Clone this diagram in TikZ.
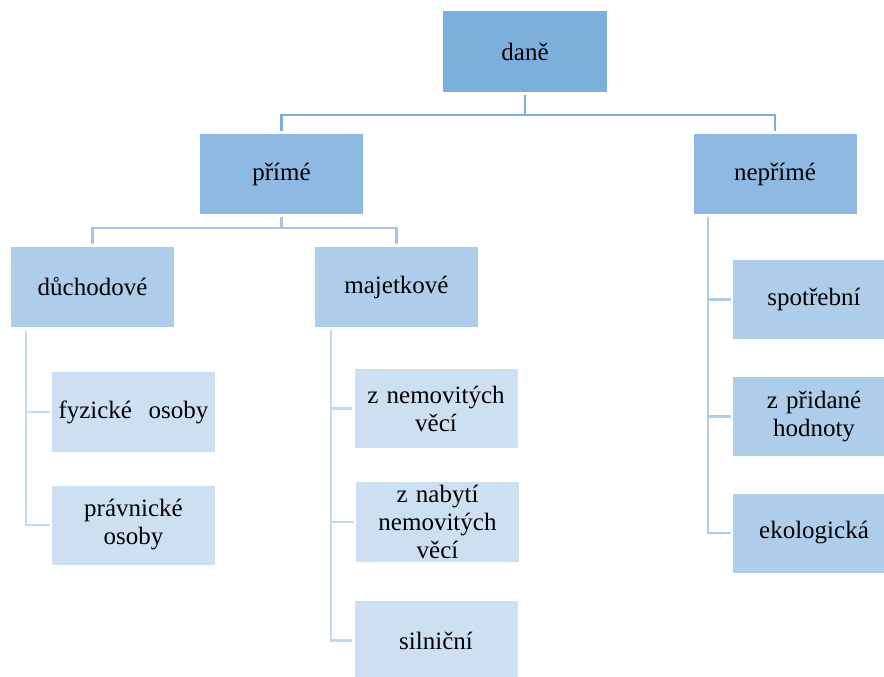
\documentclass[tikz,border=0pt]{standalone}
\usepackage{fontspec}
\setmainfont{Liberation Serif}
\definecolor{cA}{HTML}{7DAFDD}
\definecolor{cB}{HTML}{8DB9E2}
\definecolor{cC}{HTML}{AECDEA}
\definecolor{cD}{HTML}{CCE0F2}
\definecolor{lA}{HTML}{7DAFDD}
\definecolor{lB}{HTML}{A6C6E8}
\definecolor{lC}{HTML}{C5DAF0}
\definecolor{lD}{HTML}{AECDEA}
\tikzset{
  box/.style={rectangle, inner sep=0pt, minimum width=163pt, minimum height=80pt,
    text width=150pt, align=center, font=\fontsize{25}{28}\selectfont},
  con/.style={line width=2.6pt},
}
\begin{document}
\begin{tikzpicture}[x=1pt,y=-1pt]
\useasboundingbox (0,0) rectangle (884,677);
\clip (0,0) rectangle (884,677);
% boxes
\node[box, fill=cA, minimum width=164pt, minimum height=81pt] (dane) at (525,51.5) {daně};
\node[box, fill=cB] (prime) at (281.5,174) {přímé};
\node[box, fill=cB] (neprime) at (775,174) {nepřímé};
\node[box, fill=cC] (duch) at (92.5,287) {důchodové};
\node[box, fill=cC] (majet) at (396.5,287) {majetkové};
\node[box, fill=cD] (fyz) at (133.5,412) {fyzické\ \ osoby};
\node[box, fill=cD, minimum height=79pt] (prav) at (133.5,525) {právnické\\osoby};
\node[box, fill=cD, minimum height=79pt] (znem) at (436,408.5) {z nemovitých\\věcí};
\node[box, fill=cD] (znab) at (437.5,522) {z nabytí\\nemovitých\\věcí};
\node[box, fill=cD, minimum height=79pt] (siln) at (436,640.5) {silniční};
\node[box, fill=cC, minimum width=162pt, minimum height=79pt] (spot) at (814,299.5) {spotřební};
\node[box, fill=cC, minimum width=162pt, minimum height=79pt] (zprid) at (814,416.5) {z přidané\\hodnoty};
\node[box, fill=cC, minimum width=162pt, minimum height=79pt] (eko) at (814,533) {ekologická};
% level 1 connectors
\coordinate (j1) at (525,115);
\draw[con, lA, shorten <=3pt, shorten >=3pt] (dane.south) -- (j1) -| (prime.north);
\draw[con, lA, shorten >=3pt] (j1) -| (neprime.north);
% level 2 connectors
\coordinate (j2) at (281.5,228);
\draw[con, lB, shorten <=3pt, shorten >=3pt] (prime.south) -- (j2) -| (duch.north);
\draw[con, lB, shorten >=3pt] (j2) -| (majet.north);
% duchodove side
\coordinate (d1) at (26,331);
\draw[con, lC, shorten >=2pt] (d1) |- (prav.west);
\draw[con, lC, shorten >=2pt] (d1 |- fyz.west) -- (fyz.west);
% majetkove side
\coordinate (m1) at (331,330);
\draw[con, lC, shorten >=2pt] (m1) |- (siln.west);
\draw[con, lC, shorten >=2pt] (m1 |- znem.west) -- (znem.west);
\draw[con, lC, shorten >=2pt] (m1 |- znab.west) -- (znab.west);
% neprime side
\coordinate (n1) at (708,217);
\draw[con, lD, shorten >=2pt] (n1) |- (eko.west);
\draw[con, lD, shorten >=2pt] (n1 |- spot.west) -- (spot.west);
\draw[con, lD, shorten >=2pt] (n1 |- zprid.west) -- (zprid.west);
\end{tikzpicture}
\end{document}
